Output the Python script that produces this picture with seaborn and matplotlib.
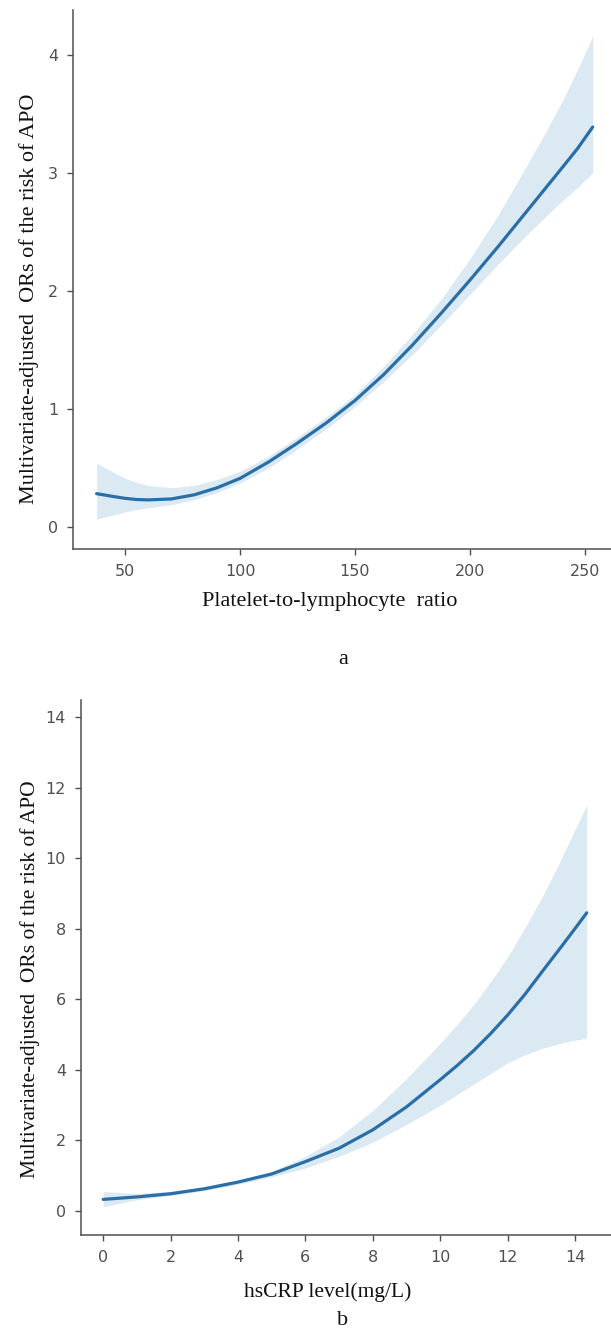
import matplotlib
matplotlib.use("Agg")
import matplotlib.pyplot as plt
import seaborn as sns

# ---------------- data ----------------
# Panel a: Platelet-to-lymphocyte ratio
plr_x = [37.5, 45, 50, 55, 60, 70, 80, 90, 100, 112.5, 125, 137.5, 150,
         162.5, 175, 187.5, 200, 212.5, 225, 232.5, 240, 247, 253.5]
plr_or = [0.28, 0.255, 0.24, 0.23, 0.227, 0.235, 0.27, 0.33, 0.41, 0.55, 0.71,
          0.88, 1.07, 1.29, 1.54, 1.81, 2.09, 2.38, 2.68, 2.86, 3.04, 3.21, 3.39]
plr_lo = [0.065, 0.10, 0.125, 0.145, 0.16, 0.185, 0.23, 0.29, 0.37, 0.50, 0.66,
          0.83, 1.02, 1.23, 1.46, 1.71, 1.97, 2.23, 2.48, 2.62, 2.76, 2.88, 3.00]
plr_hi = [0.54, 0.46, 0.41, 0.375, 0.35, 0.33, 0.35, 0.40, 0.47, 0.60, 0.76,
          0.93, 1.12, 1.36, 1.63, 1.93, 2.27, 2.65, 3.07, 3.33, 3.60, 3.88, 4.16]

# Panel b: hsCRP level (mg/L)
crp_x = [0, 1, 2, 3, 4, 5, 6, 7, 8, 9, 10, 10.5, 11, 11.5, 12, 12.5, 13,
         13.5, 14, 14.35]
crp_or = [0.33, 0.40, 0.49, 0.63, 0.82, 1.05, 1.40, 1.78, 2.30, 2.95, 3.72,
          4.12, 4.55, 5.03, 5.55, 6.12, 6.75, 7.37, 8.00, 8.45]
crp_lo = [0.12, 0.32, 0.44, 0.58, 0.76, 0.97, 1.22, 1.55, 1.95, 2.45, 3.00,
          3.30, 3.60, 3.90, 4.20, 4.42, 4.60, 4.74, 4.84, 4.90]
crp_hi = [0.55, 0.50, 0.56, 0.68, 0.87, 1.12, 1.55, 2.10, 2.85, 3.75, 4.75,
          5.28, 5.85, 6.50, 7.20, 8.00, 8.85, 9.80, 10.80, 11.50]

plr_ticks = [50, 100, 150, 200, 250]
plr_yticks = [0, 1, 2, 3, 4]
crp_ticks = [0, 2, 4, 6, 8, 10, 12, 14]
crp_yticks = [0, 2, 4, 6, 8, 10, 12, 14]

ylabel_text = "Multivariate-adjusted  ORs of the risk of APO"
xlabel_a = "Platelet-to-lymphocyte  ratio"
xlabel_b = "hsCRP level(mg/L)"

# ---------------- style ----------------
sns.set_style("ticks")
plt.rcParams['font.family'] = ['DejaVu Sans']
SERIF = ['Liberation Serif', 'DejaVu Serif']
LINE = "#2a6ea6"
BAND = "#1f77b4"
GREY = "#505050"

fig = plt.figure(figsize=(6.11, 13.30), dpi=100)
ax1 = fig.add_axes([0.119, 0.587, 0.8905, 0.4055])
ax2 = fig.add_axes([0.132, 0.0714, 0.868, 0.4023])


def style(ax):
    sns.despine(ax=ax)
    for s in ("left", "bottom"):
        ax.spines[s].set_color(GREY)
        ax.spines[s].set_linewidth(1.1)
    ax.tick_params(axis="both", labelsize=11.5, labelcolor=GREY, color=GREY,
                   length=4.5, width=1.0, pad=6)


# panel a
ax1.fill_between(plr_x, plr_lo, plr_hi, color=BAND, alpha=0.16, linewidth=0)
sns.lineplot(x=plr_x, y=plr_or, ax=ax1, color=LINE, linewidth=2.3)
ax1.set_xlim(27.1, 264.0)
ax1.set_ylim(-0.192, 4.383)
ax1.set_xticks(plr_ticks)
ax1.set_yticks(plr_yticks)
style(ax1)
ax1.set_ylabel(ylabel_text, family=SERIF, fontsize=16, color="#111111")
ax1.yaxis.label.set_va("center")
ax1.yaxis.set_label_coords(-0.080, 0.464)
ax1.set_xlabel(xlabel_a, family=SERIF, fontsize=16, color="#111111")
ax1.xaxis.label.set_va("center")
ax1.xaxis.set_label_coords(0.473, -0.097)

# panel b
ax2.fill_between(crp_x, crp_lo, crp_hi, color=BAND, alpha=0.16, linewidth=0)
sns.lineplot(x=crp_x, y=crp_or, ax=ax2, color=LINE, linewidth=2.3)
ax2.set_xlim(-0.67, 15.07)
ax2.set_ylim(-0.68, 14.48)
ax2.set_xticks(crp_ticks)
ax2.set_yticks(crp_yticks)
style(ax2)
ax2.set_ylabel(ylabel_text, family=SERIF, fontsize=15.5, color="#111111")
ax2.yaxis.label.set_va("center")
ax2.yaxis.set_label_coords(-0.0956, 0.4785)
ax2.set_xlabel(xlabel_b, family=SERIF, fontsize=15.5, color="#111111")
ax2.xaxis.label.set_va("center")
ax2.xaxis.set_label_coords(0.466, -0.106)

fig.text(0.5614, 0.5038, "a", family=SERIF, fontsize=16, ha="center", va="center", color="#111111")
fig.text(0.5614, 0.0070, "b", family=SERIF, fontsize=16, ha="center", va="center", color="#111111")

fig.savefig("out.png", dpi=100, facecolor="white")
